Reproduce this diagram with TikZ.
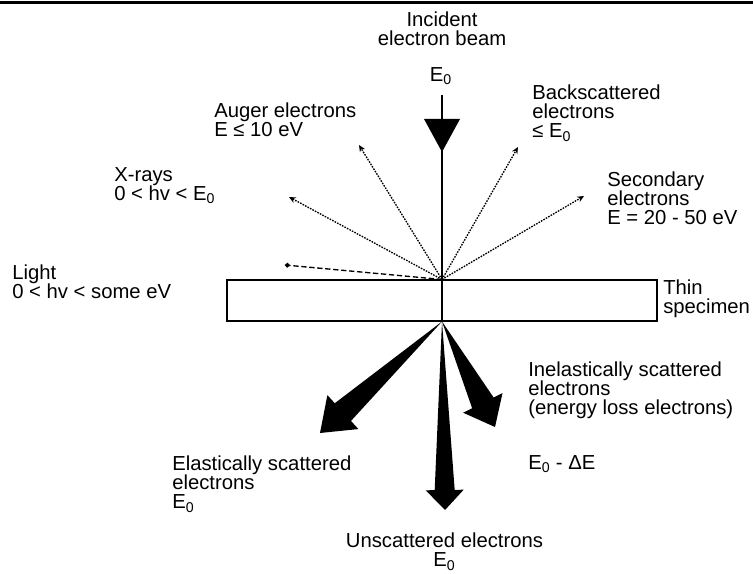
\documentclass[tikz,border=0pt]{standalone}
\usepackage{fontspec}
\setmainfont{Liberation Sans}
\usepackage{tikz}
\usetikzlibrary{arrows.meta, calc}

% fat scattered beam: from, to, head length, shaft half width, head half width
\newcommand{\fatbeam}[5]{%
  \fill (#1) -- ($(#2)!#3!(#1)!#4!90:(#2)$) -- ($(#2)!#3!(#1)!#5!90:(#2)$) -- (#2)
    -- ($(#2)!#3!(#1)!#5!-90:(#2)$) -- ($(#2)!#3!(#1)!#4!-90:(#2)$) -- cycle;}

\begin{document}
\begin{tikzpicture}[
    x=0.75pt, y=-0.75pt,
    font={\fontsize{15.2pt}{14.25pt}\selectfont},
    lbl/.style={anchor=north west, align=left, inner sep=0pt},
    clbl/.style={anchor=north, align=center, inner sep=0pt},
    specbox/.style={draw, line width=0.8pt, minimum width=322.5pt, minimum height=30.75pt, inner sep=0pt},
    dotarr/.style={-{Stealth[length=5pt, width=4.5pt]}, dash pattern=on 1.2pt off 0.9pt, line width=1pt},
    dasharr/.style={-{Circle[length=3.5pt]}, dash pattern=on 4pt off 2pt, line width=1pt}
]
\useasboundingbox (0,0) rectangle (753,574);
\fill (0,1.5) rectangle (753,4);

% specimen and incident beam
\node[specbox] (spec) at (442,300.5) {};
\coordinate (beamtop) at (442,95);
\draw[line width=0.8pt] (beamtop) -- (spec.south);
\fill (424,119) -- (460,119) -- (442,152) -- cycle;

% emitted from the top surface
\coordinate (tBack) at (518,147);
\coordinate (tSec) at (584,196);
\coordinate (tAug) at (359,145);
\coordinate (tXray) at (289,197);
\coordinate (tLight) at (285,265);
\draw[dotarr] (spec.north) -- (tBack);
\draw[dotarr] (spec.north) -- (tSec);
\draw[dotarr] (spec.north) -- (tAug);
\draw[dotarr] (spec.north) -- (tXray);
\draw[dasharr] (spec.north) -- (tLight);

% transmitted through the specimen
\coordinate (tElast) at (320,433);
\coordinate (tUnsc) at (445,510);
\coordinate (tInel) at (495,427);
\fatbeam{spec.south}{tElast}{23.25pt}{9pt}{17.25pt}
\fatbeam{spec.south}{tUnsc}{15pt}{7.5pt}{14.25pt}
\fatbeam{spec.south}{tInel}{20.25pt}{9pt}{16.5pt}

% labels
\node[clbl] (inc) at (442,12) {Incident\\electron beam};
\node[clbl] (incE) at (441,67) {E\textsubscript{0}};
\node[lbl] (auger) at (214,103) {Auger electrons\\E ≤ 10 eV};
\node[lbl] (xray) at (114,167) {X-rays\\0 < hv < E\textsubscript{0}};
\node[lbl] (light) at (12,265) {Light\\0 < hv < some eV};
\node[lbl] (back) at (532,85) {Backscattered\\electrons\\≤ E\textsubscript{0}};
\node[lbl] (second) at (607,172) {Secondary\\electrons\\E = 20 - 50 eV};
\node[lbl] (thin) at (663,280) {Thin\\specimen};
\node[lbl] (inel) at (528,362) {Inelastically scattered\\electrons\\(energy loss electrons)};
\node[lbl] (inelE) at (528,455) {E\textsubscript{0} - ΔE};
\node[lbl] (elast) at (172,456) {Elastically scattered\\electrons\\E\textsubscript{0}};
\node[clbl] (unsc) at (444.5,533) {Unscattered electrons\\E\textsubscript{0}};
\end{tikzpicture}
\end{document}
